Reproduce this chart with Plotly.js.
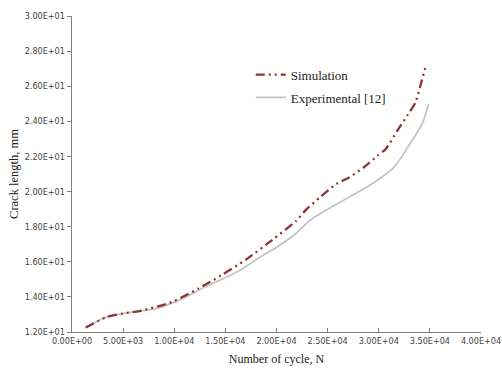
<!DOCTYPE html>
<html>
<head>
<meta charset="utf-8">
<script src="https://cdn.plot.ly/plotly-3.0.1.min.js"></script>
<style>html,body{margin:0;padding:0;background:#fff;}#chart{width:502px;height:374px;}</style>
</head>
<body>
<div id="chart"></div>
<script>
// Data
const simCycles = [1350, 3350, 4950, 6880, 9780, 12350, 14600, 17000, 19600, 21900, 22900, 24300, 25870, 27150, 28760, 29890, 30690, 31820, 32790, 33590, 34070, 34650];
const simLength = [12.25, 12.85, 13.05, 13.23, 13.71, 14.47, 15.23, 16.12, 17.25, 18.32, 18.97, 19.70, 20.44, 20.82, 21.48, 22.05, 22.43, 23.47, 24.33, 25.08, 26.03, 27.27];
const expCycles = [1350, 3350, 5920, 8170, 10420, 13000, 16220, 18530, 20100, 21800, 23400, 24500, 26510, 29080, 31500, 32940, 34240, 34880];
const expLength = [12.25, 12.85, 13.14, 13.33, 13.80, 14.56, 15.45, 16.31, 16.86, 17.57, 18.42, 18.82, 19.49, 20.34, 21.39, 22.62, 23.85, 24.99];

const xTickVals = [0, 5000, 10000, 15000, 20000, 25000, 30000, 35000, 40000];
const xTickText = ["0.00E+00", "5.00E+03", "1.00E+04", "1.50E+04", "2.00E+04", "2.50E+04", "3.00E+04", "3.50E+04", "4.00E+04"];
const yTickVals = [12, 14, 16, 18, 20, 22, 24, 26, 28, 30];
const yTickText = ["1.20E+01", "1.40E+01", "1.60E+01", "1.80E+01", "2.00E+01", "2.20E+01", "2.40E+01", "2.60E+01", "2.80E+01", "3.00E+01"];

const serif = "'Liberation Serif', 'Times New Roman', serif";
const tickFont = {family: "'Liberation Sans Narrow', 'DejaVu Sans Condensed', 'Liberation Sans', sans-serif", size: 9, color: "#444"};

const traces = [
  {
    x: expCycles, y: expLength, name: "Experimental [12]", type: "scatter", mode: "lines",
    line: {color: "#c4c4c4", width: 1.8, shape: "spline", smoothing: 0.7},
    legendrank: 2, legendgroup: "b"
  },
  {
    x: simCycles, y: simLength, name: "Simulation", type: "scatter", mode: "lines",
    line: {color: "#8e3434", width: 2.3, dash: "9px,4px,2px,4px,2px,4px", shape: "spline", smoothing: 0.7},
    legendrank: 1, legendgroup: "a"
  }
];

const layout = {
  width: 502, height: 374,
  margin: {l: 72, r: 21, t: 16, b: 41.5},
  paper_bgcolor: "#fff", plot_bgcolor: "#fff",
  showlegend: true,
  legend: {
    x: 0.437, y: 0.862, xanchor: "left", yanchor: "top",
    font: {family: serif, size: 13, color: "#222"},
    bgcolor: "rgba(0,0,0,0)", traceorder: "grouped", tracegroupgap: 3
  },
  xaxis: {
    range: [0, 40000], tickvals: xTickVals, ticktext: xTickText,
    showgrid: false, zeroline: false, showline: true, linecolor: "#7f7f7f", linewidth: 1.3,
    ticks: "inside", ticklen: 4, tickcolor: "#7f7f7f", tickfont: tickFont,
    ticklabeloverflow: "allow",
    title: {text: "Number of cycle, N", font: {family: serif, size: 12, color: "#222"}, standoff: 9}
  },
  yaxis: {
    range: [12, 30], tickvals: yTickVals, ticktext: yTickText,
    showgrid: false, zeroline: false, showline: true, linecolor: "#7f7f7f", linewidth: 1.3,
    ticks: "outside", ticklen: 4, tickcolor: "#7f7f7f", tickfont: tickFont,
    title: {text: "Crack length, mm", font: {family: serif, size: 12.5, color: "#222"}, standoff: 3}
  }
};

Plotly.newPlot("chart", traces, layout, {displayModeBar: false, staticPlot: true});
</script>
</body>
</html>
